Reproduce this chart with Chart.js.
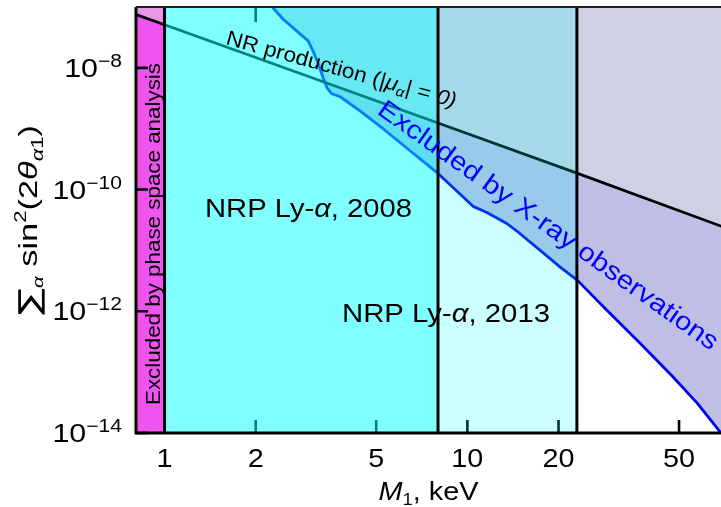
<!DOCTYPE html>
<html><head><meta charset="utf-8">
<script src="https://cdn.jsdelivr.net/npm/chart.js@4/dist/chart.umd.min.js"></script>
<style>html,body{margin:0;padding:0;background:#fff;overflow:hidden}</style>
</head><body>
<canvas id="c" width="721" height="507"></canvas>
<script>
// ---- data ----
const xrayMass   = [2.27, 2.46, 2.66, 2.98, 3.09, 3.21, 3.34, 3.44, 3.57, 3.80, 4.42, 5.27, 6.47, 7.94, 8.97, 10.44, 11.6, 13.5, 14.9, 17.4, 20.3, 23.1, 28.9, 37.2, 47.8, 57.4, 68.8];
const xrayMixing = [1.0e-7, 6.35e-8, 4.53e-8, 2.77e-8, 1.9e-8, 1.21e-8, 6.86e-9, 4.7e-9, 3.75e-9, 3.35e-9, 1.97e-9, 1.0e-9, 4.35e-10, 1.9e-10, 1.08e-10, 5.3e-11, 4.2e-11, 2.77e-11, 1.9e-11, 1.0e-11, 5.26e-12, 3.22e-12, 1.04e-12, 2.99e-13, 8.3e-14, 3.1e-14, 1.0e-14];
const nrMass   = [0.8, 1, 8, 23, 70];
const nrMixing = [7.6e-8, 5.1e-8, 1.24e-9, 1.86e-10, 2.43e-11];
const phaseSpaceLimit = 1;   // keV
const lya2008Limit = 8;      // keV
const lya2013Limit = 23;     // keV
const xTicks = [1, 2, 5, 10, 20, 50];
const xTopTicks = [2];
const yTicks = [1e-14, 1e-12, 1e-10, 1e-8];
const yTickExp = ['14', '12', '10', '8'];
const xRange = [0.805, 68.8];
const yRange = [1e-14, 1e-7];

// ---- build ----
const pts = (xs, ys) => xs.map((x, i) => ({x, y: ys[i]}));
const xray = pts(xrayMass, xrayMixing);
const nr = pts(nrMass, nrMixing);
const nrPhase = nr.filter(p => p.x <= phaseSpaceLimit);
const bandTop = (a, b) => [{x: a, y: yRange[1]}, {x: b, y: yRange[1]}];
const vline = v => [{x: v, y: yRange[0]}, {x: v, y: yRange[1]}];

const fam = '"Liberation Sans", Arial, Helvetica, sans-serif';
const F = (s, it) => (it ? 'italic ' : '') + s + 'px ' + fam;

const base = {pointRadius: 0, pointHoverRadius: 0, tension: 0, borderJoinStyle: 'round'};
const datasets = [
  Object.assign({label: 'overproduction', data: xray, fill: 'end', backgroundColor: 'rgb(208,208,228)', borderColor: 'rgba(0,0,0,0)', borderWidth: 0, order: 10}, base),
  Object.assign({label: 'xray excluded', data: nr, fill: {target: 0, above: 'rgb(191,191,230)', below: 'rgba(0,0,0,0)'}, borderColor: 'rgba(0,0,0,0)', borderWidth: 0, order: 9}, base),
  Object.assign({label: 'phase low', data: nrPhase, fill: 'start', backgroundColor: 'rgb(240,84,240)', borderColor: 'rgba(0,0,0,0)', borderWidth: 0, order: 8}, base),
  Object.assign({label: 'phase high', data: nrPhase, fill: 'end', backgroundColor: 'rgb(230,152,230)', borderColor: 'rgba(0,0,0,0)', borderWidth: 0, order: 8}, base),
  Object.assign({label: 'NR production', data: nr, fill: false, borderColor: '#000', borderWidth: 2.8, order: 6}, base),
  Object.assign({label: 'X-ray limit', data: xray, fill: false, borderColor: 'rgb(0,0,232)', borderWidth: 2.8, order: 7}, base),
  Object.assign({label: 'Ly-a 2008', data: bandTop(phaseSpaceLimit, lya2008Limit), fill: 'start', backgroundColor: 'rgba(0,255,255,0.5)', borderColor: 'rgba(0,0,0,0)', borderWidth: 0, order: 5}, base),
  Object.assign({label: 'Ly-a 2013', data: bandTop(lya2008Limit, lya2013Limit), fill: 'start', backgroundColor: 'rgba(0,255,255,0.2)', borderColor: 'rgba(0,0,0,0)', borderWidth: 0, order: 5}, base),
  Object.assign({label: 'edge1', data: vline(phaseSpaceLimit), fill: false, borderColor: '#000', borderWidth: 3, order: 1}, base),
  Object.assign({label: 'edge2', data: vline(lya2008Limit), fill: false, borderColor: '#000', borderWidth: 3, order: 1}, base),
  Object.assign({label: 'edge3', data: vline(lya2013Limit), fill: false, borderColor: '#000', borderWidth: 3, order: 1}, base)
];
const NR_LINE = 4;

function runsWidth(ctx, runs) {
  let w = 0;
  for (const r of runs) { ctx.font = r.f; w += ctx.measureText(r.t).width; }
  return w;
}
function drawRuns(ctx, runs, x, y, o) {
  o = o || {};
  ctx.save();
  ctx.translate(x, y);
  ctx.rotate(o.angle || 0);
  const w = runsWidth(ctx, runs);
  const s = o.width ? o.width / w : (o.sx || 1);
  ctx.scale(s, 1);
  let cx = o.align === 'center' ? -w / 2 : o.align === 'right' ? -w : 0;
  ctx.fillStyle = o.color || '#000';
  ctx.textBaseline = 'alphabetic';
  ctx.textAlign = 'left';
  for (const r of runs) {
    ctx.font = r.f;
    ctx.fillText(r.t, cx, r.dy || 0);
    cx += ctx.measureText(r.t).width;
  }
  ctx.restore();
}

const decor = {
  id: 'decor',
  afterDatasetDraw(chart, args) {
    if (args.index !== NR_LINE) return;
    const {ctx, chartArea: a, scales: {x, y}} = chart;
    ctx.save();
    ctx.strokeStyle = '#000';
    ctx.lineWidth = 2.6;
    ctx.beginPath();
    for (const v of xTicks) { const p = x.getPixelForValue(v); ctx.moveTo(p, a.bottom); ctx.lineTo(p, a.bottom - 13); }
    for (const v of xTopTicks) { const p = x.getPixelForValue(v); ctx.moveTo(p, a.top); ctx.lineTo(p, a.top + 15); }
    for (const v of yTicks) { const p = y.getPixelForValue(v); ctx.moveTo(a.left, p); ctx.lineTo(a.left + 12, p); }
    ctx.stroke();
    ctx.restore();
  },
  afterDatasetsDraw(chart) {
    const {ctx, chartArea: a, scales: {x, y}} = chart;
    // frame
    ctx.save();
    ctx.strokeStyle = '#000';
    ctx.lineWidth = 3;
    ctx.beginPath();
    ctx.moveTo(a.left, a.top); ctx.lineTo(a.left, a.bottom); ctx.lineTo(a.right, a.bottom);
    ctx.stroke();
    ctx.strokeStyle = '#222';
    ctx.lineWidth = 2.2;
    ctx.beginPath(); ctx.moveTo(a.left, a.top); ctx.lineTo(a.right, a.top); ctx.stroke();
    ctx.restore();

    // in-plot labels
    drawRuns(ctx, [{t: 'NRP Ly-', f: F(26)}, {t: 'α', f: F(26, true)}, {t: ', 2008', f: F(26)}], 205, 216.5, {width: 207});
    drawRuns(ctx, [{t: 'NRP Ly-', f: F(26)}, {t: 'α', f: F(26, true)}, {t: ', 2013', f: F(26)}], 342, 322, {width: 208});
    drawRuns(ctx, [{t: 'Excluded by phase space analysis', f: F(21)}], 159.5, 405, {angle: -Math.PI / 2, width: 342});
    drawRuns(ctx, [{t: 'NR production (|', f: F(21)}, {t: 'μ', f: F(21, true)}, {t: 'α', f: F(14, true), dy: 4}, {t: '| = ', f: F(21)}, {t: '0)', f: F(21, true)}],
      225, 44, {angle: 15.5 * Math.PI / 180, width: 238});
    drawRuns(ctx, [{t: 'Excluded by X-ray observations', f: F(26)}], 376, 113, {angle: 35.4 * Math.PI / 180, width: 411, color: 'rgb(0,0,255)'});

    // tick labels
    xTicks.forEach(v => {
      drawRuns(ctx, [{t: String(v), f: F(25)}], x.getPixelForValue(v), 467, {align: 'center', sx: 1.15});
    });
    yTicks.forEach((v, i) => {
      const p = y.getPixelForValue(v);
      drawRuns(ctx, [{t: '10', f: F(26)}, {t: '\u2212' + yTickExp[i], f: F(18), dy: -10}], 122, p + 9, {align: 'right', sx: 1.17});
    });

    // axis titles
    drawRuns(ctx, [{t: 'M', f: F(25, true)}, {t: '1', f: F(16), dy: 5}, {t: ', keV', f: F(25)}], (a.left + a.right) / 2, 500, {align: 'center', width: 100});
    drawRuns(ctx, [
      {t: '\u2211', f: '29px "DejaVu Sans", sans-serif', dy: 2},
      {t: 'α', f: F(15, true), dy: 6},
      {t: ' sin', f: F(25)},
      {t: '2', f: F(16), dy: -11},
      {t: '(2', f: F(25)},
      {t: 'θ', f: F(25, true)},
      {t: 'α', f: F(16, true), dy: 6},
      {t: '1', f: F(16), dy: 6},
      {t: ')', f: F(25)}
    ], 37, (a.top + a.bottom) / 2, {angle: -Math.PI / 2, align: 'center', width: 190});
  }
};

new Chart(document.getElementById('c'), {
  type: 'line',
  data: {datasets},
  options: {
    responsive: false,
    animation: false,
    devicePixelRatio: 1,
    parsing: true,
    layout: {padding: {left: 136, top: 7, right: 0, bottom: 74}},
    scales: {
      x: {type: 'logarithmic', min: xRange[0], max: xRange[1], display: false},
      y: {type: 'logarithmic', min: yRange[0], max: yRange[1], display: false}
    },
    plugins: {legend: {display: false}, tooltip: {enabled: false}},
    events: []
  },
  plugins: [decor]
});
</script>
</body></html>
